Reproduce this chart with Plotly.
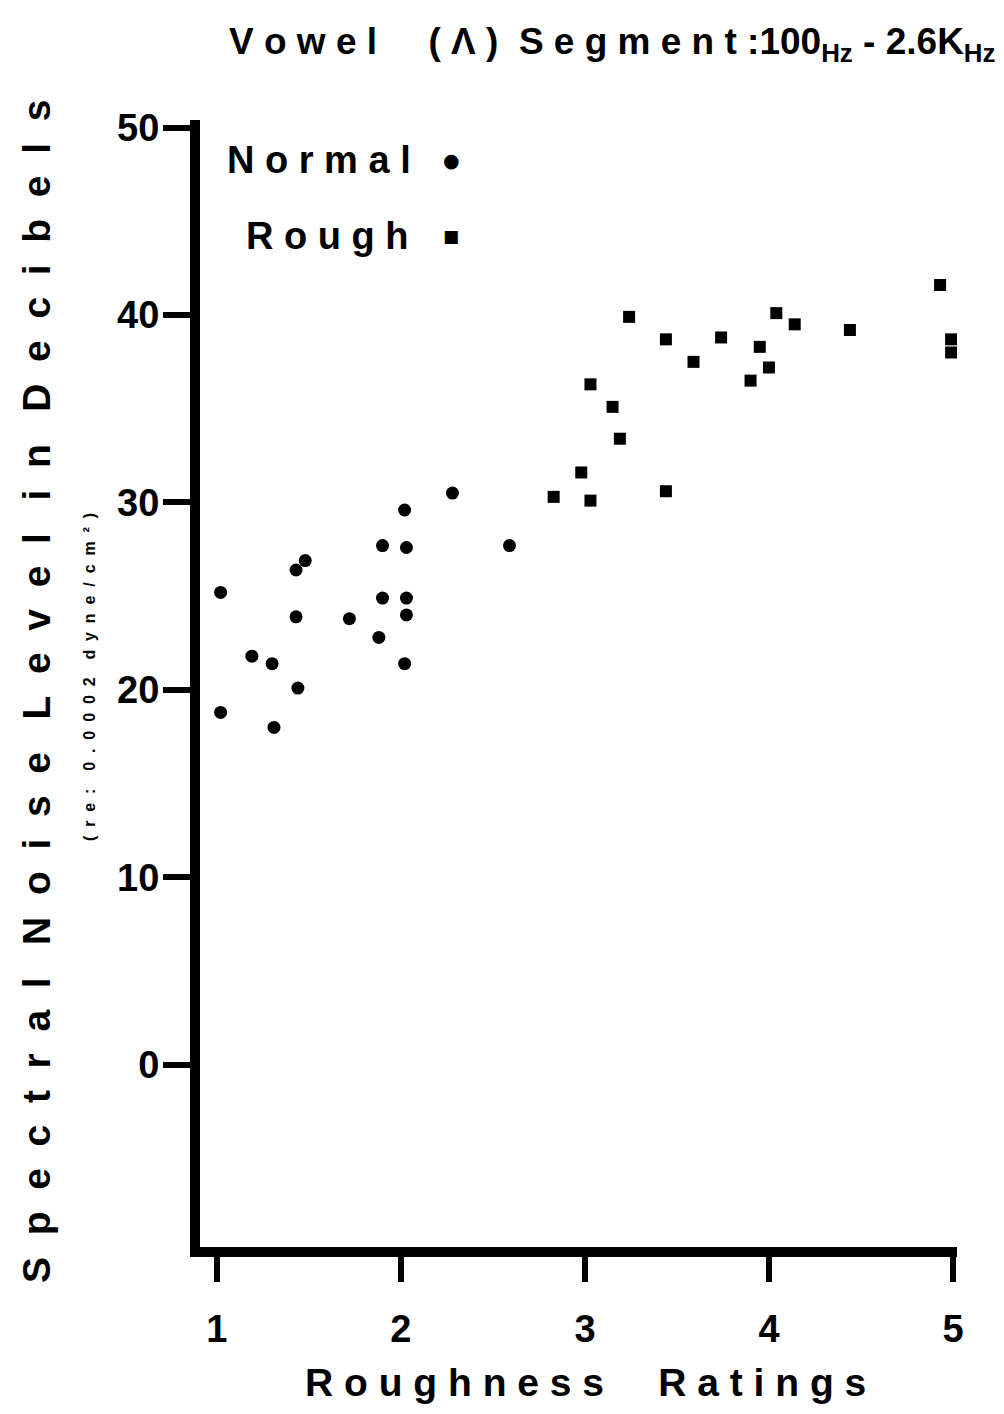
import plotly.graph_objects as go

# ---- data ----
normal_x = [2.28, 2.02, 1.90, 2.03, 1.48, 1.43, 1.02, 1.90, 2.03, 1.43,
            1.72, 2.03, 1.88, 1.19, 1.30, 2.02, 1.44, 1.02, 1.31, 2.59]
normal_y = [30.5, 29.6, 27.7, 27.6, 26.9, 26.4, 25.2, 24.9, 24.9, 23.9,
            23.8, 24.0, 22.8, 21.8, 21.4, 21.4, 20.1, 18.8, 18.0, 27.7]

rough_x = [3.24, 3.44, 3.59, 3.03, 3.15, 3.19, 2.98, 2.83, 3.03, 3.44,
           4.93, 4.04, 4.14, 4.44, 3.74, 3.95, 4.99, 4.99, 4.00, 3.90]
rough_y = [39.9, 38.7, 37.5, 36.3, 35.1, 33.4, 31.6, 30.3, 30.1, 30.6,
           41.6, 40.1, 39.5, 39.2, 38.8, 38.3, 38.7, 38.0, 37.2, 36.5]

x_ticks = [1, 2, 3, 4, 5]
y_ticks = [0, 10, 20, 30, 40, 50]

FONT = "Liberation Sans, Arial, sans-serif"
NB = "\u00a0"


def spaced(s, gap=1, word_gap=3):
    words = s.split(" ")
    return (NB * word_gap).join((NB * gap).join(w) for w in words)


fig = go.Figure()
fig.add_trace(go.Scatter(x=normal_x, y=normal_y, mode="markers", name="Normal",
                         marker=dict(symbol="circle", size=13, color="black")))
fig.add_trace(go.Scatter(x=rough_x, y=rough_y, mode="markers", name="Rough",
                         marker=dict(symbol="square", size=12, color="black")))

# page is offset by the 8px body margin of the html page
OFF = 8
W, H = 988, 1398
PL, PR, PT, PB = 200, 957, 120, 1247          # plot edges in page pixels
L, T = PL - OFF, PT - OFF
R, B = W - (PR - OFF), H - (PB - OFF)
pw, ph = W - L - R, H - T - B


def px(xp):
    return (xp - OFF - L) / pw


def py(yp):
    return (H - B - (yp - OFF)) / ph


axis_common = dict(showgrid=False, zeroline=False, showline=True, linecolor="black",
                   linewidth=10, ticks="outside", tickcolor="black", tickwidth=6,
                   automargin=False,
                   tickfont=dict(family=FONT, size=38, color="black", weight="bold"))

fig.update_xaxes(range=[0.908, 5.022], tickvals=x_ticks, ticklen=25,
                 ticklabelstandoff=14, **axis_common)
fig.update_yaxes(range=[-9.71, 50.4], tickvals=y_ticks, ticklen=27,
                 ticklabelstandoff=-4, **axis_common)

BIG = dict(family=FONT, color="black", weight="bold")

annots = []
title_text = (spaced("Vowel") + NB * 5 + "(" + NB + "\u039b" + NB + ")" + NB * 2 +
              spaced("Segment:") + "100<sub>Hz</sub>" + NB + "-" + NB + "2.6K<sub>Hz</sub>")
annots.append(dict(text=title_text, x=px(612), y=py(44), xref="paper", yref="paper",
                   showarrow=False, xanchor="center", yanchor="middle",
                   font=dict(size=37, **BIG)))
annots.append(dict(text=spaced("Spectral Noise Level in Decibels", 2, 3), x=px(36), y=py(692),
                   xref="paper", yref="paper", showarrow=False, textangle=-90,
                   xanchor="center", yanchor="middle",
                   font=dict(size=39, **BIG)))
annots.append(dict(text=spaced("(re: 0.0002 dyne/cm²)", 2, 4), x=px(89), y=py(677),
                   xref="paper", yref="paper", showarrow=False, textangle=-90,
                   xanchor="center", yanchor="middle",
                   font=dict(size=16, **BIG)))
annots.append(dict(text=spaced("Roughness Ratings", 1, 5), x=px(585), y=py(1382),
                   xref="paper", yref="paper", showarrow=False,
                   xanchor="center", yanchor="middle",
                   font=dict(size=39, **BIG)))
# legend (text followed by symbol, as in the original)
annots.append(dict(text=spaced("Normal", 1), x=px(413), y=py(160), xref="paper", yref="paper",
                   showarrow=False, xanchor="right", yanchor="middle",
                   font=dict(size=38, **BIG)))
annots.append(dict(text="\u25cf", x=px(451), y=py(160), xref="paper", yref="paper",
                   showarrow=False, xanchor="center", yanchor="middle",
                   font=dict(family="DejaVu Sans", size=19, color="black")))
annots.append(dict(text=spaced("Rough", 1), x=px(411), y=py(236), xref="paper", yref="paper",
                   showarrow=False, xanchor="right", yanchor="middle",
                   font=dict(size=38, **BIG)))
annots.append(dict(text="\u25a0", x=px(451), y=py(236), xref="paper", yref="paper",
                   showarrow=False, xanchor="center", yanchor="middle",
                   font=dict(family="DejaVu Sans", size=17, color="black")))

fig.update_layout(width=W, height=H, margin=dict(l=L, r=R, t=T, b=B),
                  template="none",
                  paper_bgcolor="white", plot_bgcolor="white", showlegend=False,
                  annotations=annots)

fig.write_html("out.html")
